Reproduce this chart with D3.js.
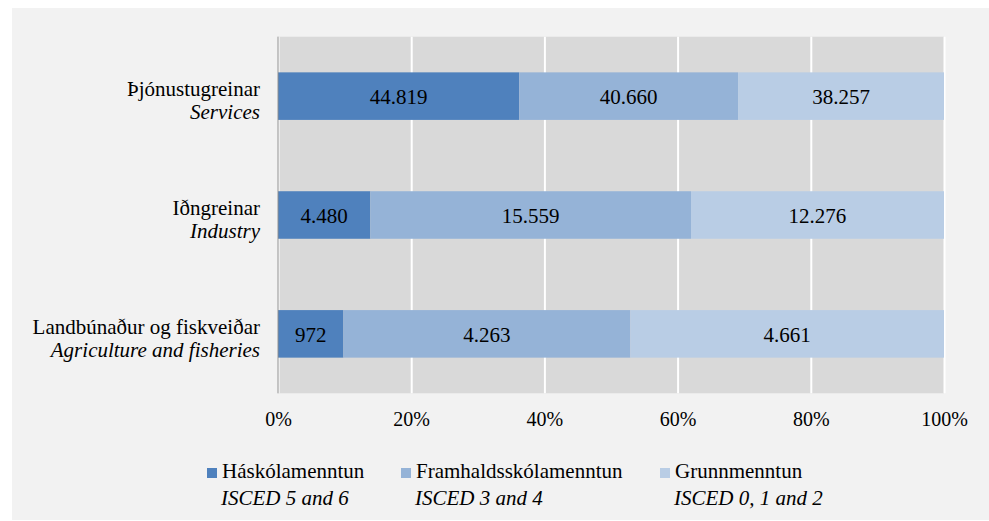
<!DOCTYPE html>
<html>
<head>
<meta charset="utf-8">
<script src="https://cdn.jsdelivr.net/npm/d3@7"></script>
<style>
  body { margin: 0; background: #ffffff; }
</style>
</head>
<body>
<div id="chart"></div>
<script>
var width = 989;
var height = 521;
var serif = "'Liberation Serif', 'Times New Roman', serif";

// categories (top to bottom), Icelandic + English
var categories = ["Þjónustugreinar", "Iðngreinar", "Landbúnaður og fiskveiðar"];
var categoriesEn = ["Services", "Industry", "Agriculture and fisheries"];

// series values per category, same order as categories
var series = ["Háskólamenntun", "Framhaldsskólamenntun", "Grunnmenntun"];
var seriesEn = ["ISCED 5 and 6", "ISCED 3 and 4", "ISCED 0, 1 and 2"];
var tertiary = [44819, 4480, 972];
var secondary = [40660, 15559, 4263];
var primary = [38257, 12276, 4661];

var xTicks = [0, 0.2, 0.4, 0.6, 0.8, 1];
var colors = ["#4f81bd", "#95b3d7", "#b9cde5"];

var values = [tertiary, secondary, primary];

// build rows for the stack
var rows = categories.map(function(c, i) {
    var row = {cat: c, en: categoriesEn[i]};
    var total = 0;
    series.forEach(function(s, j) { total += values[j][i]; });
    series.forEach(function(s, j) { row[s] = values[j][i] / total; row[s + "_raw"] = values[j][i]; });
    return row;
});

var stacked = d3.stack().keys(series)(rows);

var plotLeft = 278, plotRight = 944, plotTop = 36.7, plotBottom = 393.3;

var xScale = d3.scaleLinear().domain([0, 1]).range([plotLeft, plotRight]);
var yScale = d3.scaleBand().domain(categories).range([plotTop, plotBottom])
    .paddingInner(0.6).paddingOuter(0.3);

var isl = d3.formatLocale({decimal: ",", thousands: ".", grouping: [3], currency: ["", " kr."]});
var fmt = isl.format(",d");

var svg = d3.select("#chart").append("svg")
    .attr("width", width)
    .attr("height", height)
    .attr("font-family", serif);

// outer background
svg.append("rect")
    .attr("x", 12).attr("y", 8)
    .attr("width", width - 12).attr("height", height - 9)
    .attr("fill", "#f2f2f2");

// plot area
svg.append("rect")
    .attr("x", plotLeft).attr("y", plotTop)
    .attr("width", plotRight - plotLeft).attr("height", plotBottom - plotTop)
    .attr("fill", "#d9d9d9");

// gridlines
var grid = svg.append("g")
    .attr("transform", "translate(0," + plotBottom + ")")
    .call(d3.axisBottom(xScale).tickValues(xTicks).tickSize(-(plotBottom - plotTop)).tickFormat(""));
grid.select(".domain").remove();
grid.selectAll("line").attr("stroke", "#ffffff").attr("stroke-width", 2);

// x axis labels
var xAxis = svg.append("g")
    .attr("transform", "translate(0," + plotBottom + ")")
    .call(d3.axisBottom(xScale).tickValues(xTicks).tickSize(0).tickPadding(19).tickFormat(d3.format(".0%")));
xAxis.attr("font-family", serif).attr("font-size", null);
xAxis.select(".domain").remove();
xAxis.selectAll("text")
    .style("font-family", serif)
    .style("font-size", "20px")
    .attr("fill", "#000");

// bars
var layers = svg.selectAll(".layer")
    .data(stacked)
    .enter().append("g")
    .attr("class", "layer")
    .attr("fill", function(d, i) { return colors[i]; });

layers.selectAll("rect")
    .data(function(d) { return d; })
    .enter().append("rect")
    .attr("x", function(d) { return xScale(d[0]); })
    .attr("y", function(d) { return yScale(d.data.cat); })
    .attr("width", function(d) { return xScale(d[1]) - xScale(d[0]); })
    .attr("height", yScale.bandwidth());

// value labels
stacked.forEach(function(layer) {
    svg.append("g").selectAll("text")
        .data(layer)
        .enter().append("text")
        .attr("x", function(d) { return (xScale(d[0]) + xScale(d[1])) / 2; })
        .attr("y", function(d) { return yScale(d.data.cat) + yScale.bandwidth() / 2 + 8; })
        .attr("text-anchor", "middle")
        .style("font-family", serif)
        .style("font-size", "21px")
        .attr("fill", "#000")
        .text(function(d) { return fmt(d.data[layer.key + "_raw"]); });
});

// left axis line
svg.append("line")
    .attr("x1", plotLeft).attr("x2", plotLeft)
    .attr("y1", plotTop).attr("y2", plotBottom)
    .attr("stroke", "#8c8c8c").attr("stroke-width", 1);

// category labels
var catLabels = svg.append("g").selectAll("text")
    .data(rows)
    .enter().append("text")
    .attr("text-anchor", "end")
    .style("font-family", serif)
    .style("font-size", "21px")
    .attr("fill", "#000")
    .attr("y", function(d) { return yScale(d.cat) + yScale.bandwidth() / 2; });
catLabels.append("tspan")
    .attr("x", 260)
    .text(function(d) { return d.cat; });
catLabels.append("tspan")
    .attr("x", 260)
    .attr("dy", 23)
    .style("font-style", "italic")
    .text(function(d) { return d.en; });

// legend
var legendX = [207, 401, 660];
var legend = svg.append("g").selectAll("g")
    .data(series)
    .enter().append("g")
    .attr("transform", function(d, i) { return "translate(" + legendX[i] + ",0)"; });
legend.append("rect")
    .attr("x", 0).attr("y", 468)
    .attr("width", 10).attr("height", 10)
    .attr("fill", function(d, i) { return colors[i]; });
legend.append("text")
    .attr("x", 15).attr("y", 478)
    .style("font-family", serif)
    .style("font-size", "21px")
    .attr("fill", "#000")
    .text(function(d) { return d; });
legend.append("text")
    .attr("x", 14).attr("y", 505)
    .style("font-family", serif)
    .style("font-size", "21px")
    .style("font-style", "italic")
    .attr("fill", "#000")
    .text(function(d, i) { return seriesEn[i]; });
</script>
</body>
</html>
